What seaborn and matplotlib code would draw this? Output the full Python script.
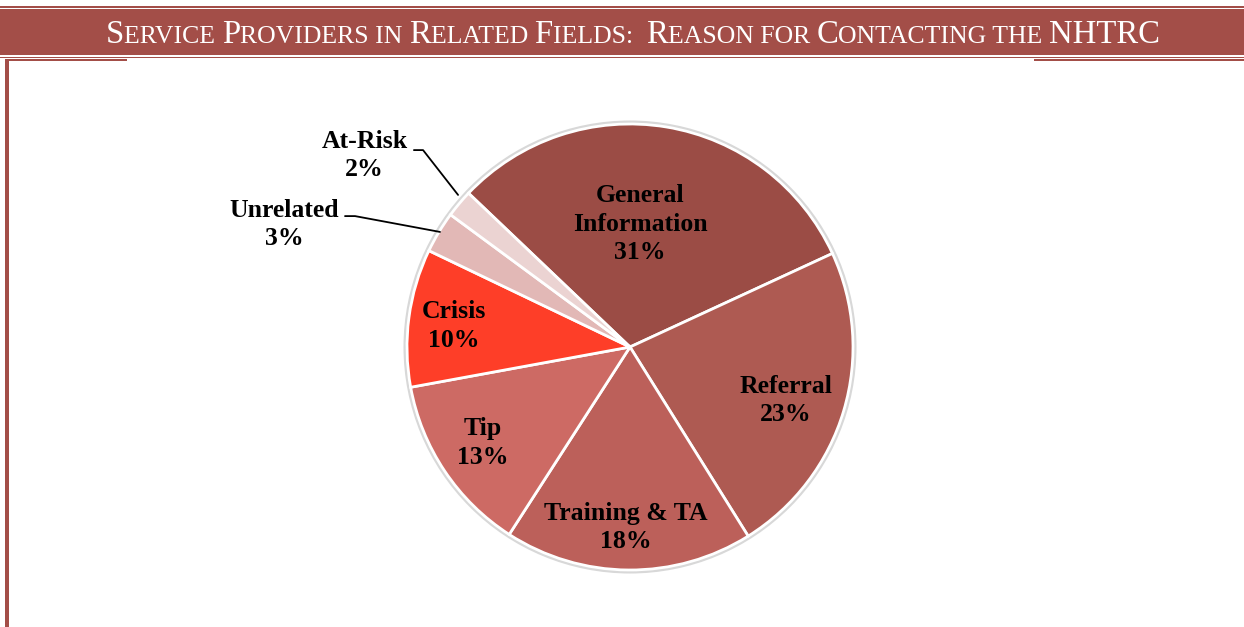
import matplotlib
matplotlib.use("Agg")
import matplotlib.pyplot as plt
import matplotlib.patches as mpatches
from matplotlib.offsetbox import TextArea, HPacker, AnchoredOffsetbox
import seaborn as sns

# data
categories = ["General\nInformation", "Referral", "Training & TA", "Tip",
              "Crisis", "Unrelated", "At-Risk"]
shares = [31, 23, 18, 13, 10, 3, 2]
slice_colors = ["#9B4C45", "#AE5A52", "#BC605A", "#CD6A64",
                "#FE3E28", "#E2B8B6", "#EBD3D2"]

sns.set_theme(style="white")
plt.rcParams['font.family'] = ['Liberation Serif', 'DejaVu Serif']

W, H = 1244, 627
fig = plt.figure(figsize=(W / 100, H / 100), dpi=100)
band = "#A34E48"

# background / header decoration in pixel coords
bg = fig.add_axes([0, 0, 1, 1])
bg.set_xlim(0, W)
bg.set_ylim(H, 0)
bg.axis("off")
bg.add_patch(mpatches.Rectangle((0, 6), W, 1.6, color=band, lw=0))
bg.add_patch(mpatches.Rectangle((0, 9), W, 46, color=band, lw=0))
bg.add_patch(mpatches.Rectangle((0, 56.5), W, 1.4, color=band, lw=0))
bg.add_patch(mpatches.Rectangle((5, 58.5), 122, 2.2, color=band, lw=0))
bg.add_patch(mpatches.Rectangle((1034, 58.5), W - 1034, 2.2, color=band, lw=0))
bg.add_patch(mpatches.Rectangle((5, 58.5), 4, H - 58.5, color=band, lw=0))

# small-caps title built from pieces
big, small = 23.6, 18.5
pieces = [("S", big), ("ERVICE ", small), ("P", big), ("ROVIDERS IN ", small),
          ("R", big), ("ELATED ", small), ("F", big), ("IELDS:  ", small),
          ("R", big), ("EASON FOR ", small), ("C", big),
          ("ONTACTING THE ", small), ("NHTRC", big)]
areas = [TextArea(t, textprops=dict(color="white", fontsize=s,
                                    family=['Liberation Serif']))
         for t, s in pieces]
pack = HPacker(children=areas, align="baseline", pad=0, sep=0)
title_box = AnchoredOffsetbox(loc="center", child=pack, pad=0, borderpad=0,
                              frameon=False,
                              bbox_to_anchor=(633 / W, 1 - 35 / H),
                              bbox_transform=fig.transFigure)
bg.add_artist(title_box)

# pie
cx, cy, r = 630, 347, 223
ax = fig.add_axes([(cx - r) / W, (H - cy - r) / H, 2 * r / W, 2 * r / H])
ring = mpatches.Circle((0, 0), 1.008, facecolor="none",
                       edgecolor="#D8D8D8", lw=2.5, zorder=0)
ax.add_patch(ring)
ring.set_clip_on(False)
wedges, _ = ax.pie(shares, colors=slice_colors, startangle=136.4,
                   counterclock=False,
                   wedgeprops=dict(edgecolor="white", linewidth=2))
for w in wedges:
    w.set_clip_on(False)
ax.set_xlim(-1, 1)
ax.set_ylim(-1, 1)
ax.set_aspect("equal")
ax.axis("off")

label_pos = [(0.045, 0.55), (0.70, -0.24), (-0.02, -0.81), (-0.66, -0.43),
             (-0.79, 0.094), (-1.55, 0.55), (-1.19, 0.86)]
for name, val, (x, y) in zip(categories, shares, label_pos):
    ax.text(x, y, f"{name}\n{val}%", ha="center", va="center",
            fontsize=18.5, fontweight="bold", color="black",
            linespacing=1.3, clip_on=False)

# leader lines for the small slices
ax.plot([-0.969, -0.928, -0.771], [0.883, 0.883, 0.682], color="black",
        lw=1.3, clip_on=False)
ax.plot([-1.278, -1.233, -0.852], [0.587, 0.587, 0.516], color="black",
        lw=1.3, clip_on=False)

fig.savefig("out.png", dpi=100)
